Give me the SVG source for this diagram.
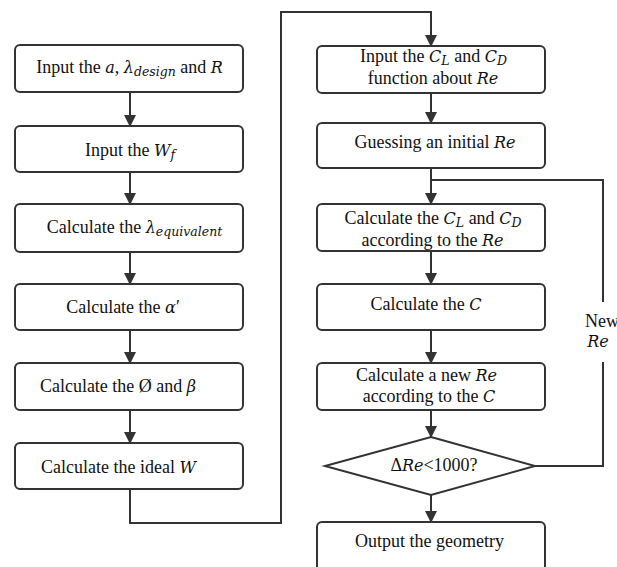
<svg xmlns="http://www.w3.org/2000/svg" width="617" height="567" viewBox="0 0 617 567">
<defs>
<marker id="ah" markerUnits="userSpaceOnUse" markerWidth="12" markerHeight="14" refX="11" refY="6" orient="auto" viewBox="0 0 12 12">
<path d="M0,0 L12,6 L0,12 Z" fill="#333"/>
</marker>
<style>
.box{fill:#fff;stroke:#333;stroke-width:2}
.t{font-family:"Liberation Serif","Times New Roman",serif;font-size:18px;fill:#111;text-anchor:middle}
.i{font-family:"DejaVu Serif","Liberation Serif",serif;font-style:italic;font-size:16px}
.s{font-family:"DejaVu Serif","Liberation Serif",serif;font-size:12.5px;font-style:italic}
.c{fill:none;stroke:#333;stroke-width:2}
.a{fill:none;stroke:#333;stroke-width:2;marker-end:url(#ah)}
</style>
</defs>
<rect width="617" height="567" fill="#fff"/>
<g id="connectors">
<line class="a" x1="130" y1="92" x2="130" y2="126"/>
<line class="a" x1="130" y1="172" x2="130" y2="204"/>
<line class="a" x1="130" y1="252" x2="130" y2="284"/>
<line class="a" x1="130" y1="330" x2="130" y2="363"/>
<line class="a" x1="130" y1="410" x2="130" y2="443"/>
<path class="a" d="M130 489 V523 H281 V12 H431 V46"/>
<line class="a" x1="431" y1="93" x2="431" y2="123"/>
<line class="a" x1="431" y1="168" x2="431" y2="204"/>
<path class="c" d="M535 466 H603 V362"/>
<path class="c" d="M603 302 V180 H431"/>
<line class="a" x1="431" y1="251" x2="431" y2="284"/>
<line class="a" x1="431" y1="330" x2="431" y2="363"/>
<line class="a" x1="431" y1="410" x2="431" y2="437"/>
<line class="a" x1="431" y1="495" x2="431" y2="522"/>
<text class="t" x="585" y="327" style="text-anchor:start">New</text>
<text class="t" x="598" y="347"><tspan class="i">Re</tspan></text>
</g>
<g id="n1"><rect class="box" x="15" y="45" width="228" height="47" rx="5"/>
<text class="t" x="129.5" y="73">Input the <tspan class="i">a</tspan>, <tspan class="i">λ</tspan><tspan class="s" dy="3">design</tspan><tspan dy="-3"> and </tspan><tspan class="i">R</tspan></text></g>
<g id="n2"><rect class="box" x="15" y="126" width="228" height="46" rx="5"/>
<text class="t" x="130" y="156">Input the <tspan class="i">W</tspan><tspan class="s" dy="3">f</tspan></text></g>
<g id="n3"><rect class="box" x="15" y="204" width="228" height="48" rx="5"/>
<text class="t" x="134.5" y="233">Calculate the <tspan class="i">λ</tspan><tspan class="s" dy="3">equivalent</tspan></text></g>
<g id="n4"><rect class="box" x="15" y="284" width="228" height="46" rx="5"/>
<text class="t" x="123" y="313">Calculate the <tspan class="i">α</tspan>′</text></g>
<g id="n5"><rect class="box" x="15" y="363" width="228" height="47" rx="5"/>
<text class="t" x="118" y="392">Calculate the Ø and <tspan class="i">β</tspan></text></g>
<g id="n6"><rect class="box" x="15" y="443" width="228" height="46" rx="5"/>
<text class="t" x="118.5" y="473">Calculate the ideal <tspan class="i">W</tspan></text></g>
<g id="r1"><rect class="box" x="317" y="46" width="228" height="47" rx="5"/>
<text class="t" x="433.5" y="62">Input the <tspan class="i">C</tspan><tspan class="s" dy="3">L</tspan><tspan dy="-3"> and </tspan><tspan class="i">C</tspan><tspan class="s" dy="3">D</tspan></text>
<text class="t" x="433" y="84">function about <tspan class="i">Re</tspan></text></g>
<g id="r2"><rect class="box" x="317" y="123" width="228" height="45" rx="5"/>
<text class="t" x="435" y="148">Guessing an initial <tspan class="i">Re</tspan></text></g>
<g id="r3"><rect class="box" x="317" y="204" width="228" height="47" rx="5"/>
<text class="t" x="433" y="224">Calculate the <tspan class="i">C</tspan><tspan class="s" dy="3">L</tspan><tspan dy="-3"> and </tspan><tspan class="i">C</tspan><tspan class="s" dy="3">D</tspan></text>
<text class="t" x="432.5" y="246">according to the <tspan class="i">Re</tspan></text></g>
<g id="r4"><rect class="box" x="317" y="284" width="228" height="46" rx="5"/>
<text class="t" x="426" y="310">Calculate the <tspan class="i">C</tspan></text></g>
<g id="r5"><rect class="box" x="317" y="363" width="228" height="47" rx="5"/>
<text class="t" x="426.5" y="381">Calculate a new <tspan class="i">Re</tspan></text>
<text class="t" x="429" y="402">according to the <tspan class="i">C</tspan></text></g>
<g id="d1"><polygon class="box" points="431,437 535,466 431,495 325,466"/>
<text class="t" x="434" y="471">Δ<tspan class="i">Re</tspan>&lt;1000?</text></g>
<g id="r6"><rect class="box" x="317" y="522" width="228" height="52" rx="5"/>
<text class="t" x="429.5" y="547">Output the geometry</text></g>
</svg>
